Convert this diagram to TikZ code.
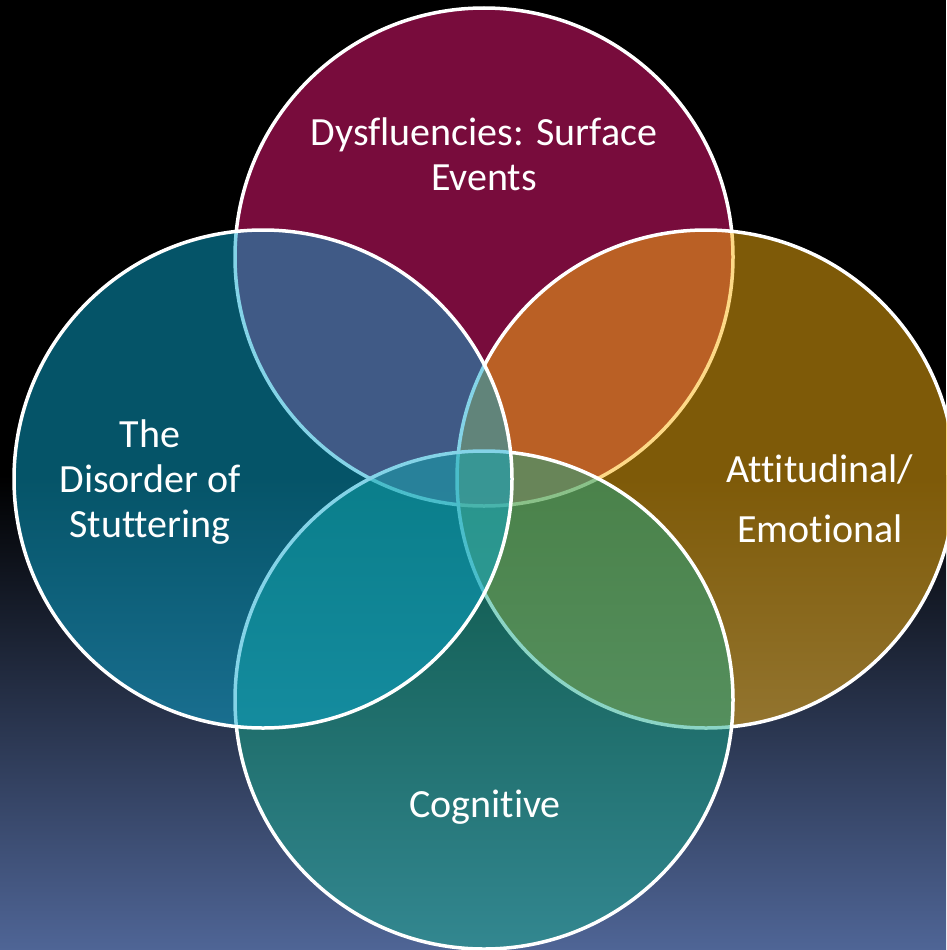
\documentclass[tikz,border=0pt]{standalone}
\usepackage{fontspec}
\setmainfont{Carlito}[Ligatures={NoCommon}]
\definecolor{cTop}{RGB}{240,24,120}
\definecolor{cRight}{RGB}{252,180,16}
\definecolor{cBottom}{RGB}{24,170,140}
\definecolor{cLeft}{RGB}{10,168,208}
\definecolor{bgLow}{RGB}{79,101,150}
\tikzset{
  venn/.style={circle, minimum size=498pt, inner sep=0pt, outer sep=0pt,
    draw=white, line width=3.5pt, fill opacity=0.5, draw opacity=1},
  label/.style={text=white, align=center, font=\fontsize{40}{45}\selectfont}
}
\begin{document}
\begin{tikzpicture}[x=1pt,y=-1pt]
\useasboundingbox (0,0) rectangle (946,950);
\fill[black] (0,0) rectangle (946,476);
\shade[top color=black, bottom color=bgLow] (0,475) rectangle (946,950);
\node[venn, fill=cTop] (top) at (484,257) {};
\node[venn, fill=cRight] (right) at (706,479) {};
\node[venn, fill=cBottom] (bottom) at (484,700) {};
\node[venn, fill=cLeft] (left) at (263,479) {};
\node[label] (ttop) at (484,154) {Dysfluencies: Surface\\Events};
\node[label] (tleft) at (150,482) {The\\Disorder of\\Stuttering};
\node[label, font=\fontsize{40}{60}\selectfont] (tright) at (820,499) {Attitudinal/\\Emotional};
\node[label] (tbottom) at (485,807) {Cognitive};
\end{tikzpicture}
\end{document}
